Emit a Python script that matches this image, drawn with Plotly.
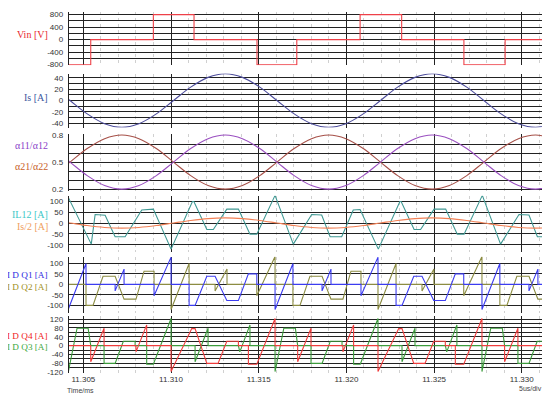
import plotly.graph_objects as go

T0 = 11.300  # ms; the time arrays below are in microseconds after T0

# ---- Panel 1: Vin ----
vin_t = [4.0, 5.42, 5.42, 8.99, 8.99, 11.31, 11.31, 14.90, 14.90, 17.17, 17.17, 20.78, 20.78,
         23.15, 23.15, 26.70, 26.70, 29.05, 29.05, 31.5]
vin_v = [-800, -800, 0, 0, 800, 800, 0, 0, -800, -800, 0, 0, 800, 800, 0, 0, -800, -800, 0, 0]

# ---- Panels 2, 3, 4 (smooth waveforms) ----
is_t = [3.26, 4.24, 5.22, 6.21, 7.19, 8.17, 9.16, 10.14, 11.12, 12.11, 13.09, 14.07, 15.06, 16.04,
        17.02, 18.01, 18.99, 19.97, 20.96, 21.94, 22.92, 23.91, 24.89, 25.87, 26.86, 27.84, 28.82,
        29.81, 30.79, 31.77]
is_v = [23.5, 0, -23.5, -40.7, -47, -40.7, -23.5, 0, 23.5, 40.7, 47, 40.7, 23.5, 0, -23.5, -40.7,
        -47, -40.7, -23.5, 0, 23.5, 40.7, 47, 40.7, 23.5, 0, -23.5, -40.7, -47, -40.7]
is2_v = [11.7, 0, -11.7, -20.3, -23.5, -20.3, -11.7, 0, 11.7, 20.3, 23.5, 20.3, 11.7, 0, -11.7, -20.3,
         -23.5, -20.3, -11.7, 0, 11.7, 20.3, 23.5, 20.3, 11.7, 0, -11.7, -20.3, -23.5, -20.3]
a1_v = [0.65, 0.5, 0.35, 0.24, 0.2, 0.24, 0.35, 0.5, 0.65, 0.76, 0.8, 0.76, 0.65, 0.5, 0.35, 0.24,
        0.2, 0.24, 0.35, 0.5, 0.65, 0.76, 0.8, 0.76, 0.65, 0.5, 0.35, 0.24, 0.2, 0.24]
a2_v = [0.35, 0.5, 0.65, 0.76, 0.8, 0.76, 0.65, 0.5, 0.35, 0.24, 0.2, 0.24, 0.35, 0.5, 0.65, 0.76,
        0.8, 0.76, 0.65, 0.5, 0.35, 0.24, 0.2, 0.24, 0.35, 0.5, 0.65, 0.76, 0.8, 0.76]

# ---- Panel 4: IL12 ----
il_t = [4.10, 5.45, 5.67, 6.24, 6.81, 7.38, 8.33, 8.99, 10.00, 11.22, 11.30, 12.04, 12.41, 13.18,
        13.84, 14.50, 14.89, 15.93, 16.97, 18.02, 18.59, 19.07, 19.73, 20.39, 20.78, 21.82, 23.05,
        23.12, 23.86, 24.23, 25.00, 25.66, 26.32, 26.71, 27.75, 28.79, 29.84, 30.41, 30.89, 31.55]
il_v = [124, -97, 39, 36, -63, -63, 60, 64, -120, 99, 99, -30, -30, 64, 64, -51, -51, 127, -97, 39,
        37, -63, -63, 60, 62, -120, 99, 99, -30, -30, 64, 64, -51, -51, 127, -97, 39, 37, -63, -63]

# ---- Panel 5: IDQ1 (blue) / IDQ2 (olive) ----
q1_t = [4.145, 5.15, 5.15, 6.81, 6.81, 7.32, 7.32, 9.03, 9.03, 10.00, 10.00, 11.03, 11.03, 11.37,
        12.04, 12.51, 13.18, 13.84, 14.41, 14.89, 14.89, 15.93, 15.93, 16.95, 16.95, 18.61, 18.61,
        19.12, 19.12, 20.83, 20.83, 21.80, 21.80, 22.83, 22.83, 23.17, 23.84, 24.31, 24.98, 25.64,
        26.21, 26.69, 26.69, 27.73, 27.73, 28.75, 28.75, 30.41, 30.41, 30.92, 30.92, 31.6]
q1_v = [-117, 100, 0, 0, -31, 73, 0, 0, -54, 130, 0, 0, -100, -100, 39, 39, -77, -77, 50, 50, 0, 0,
        -120, 100, 0, 0, -31, 73, 0, 0, -54, 130, 0, 0, -100, -100, 39, 39, -77, -77, 50, 50, 0, 0,
        -120, 100, 0, 0, -31, 73, 0, 0]
q2_t = [4.145, 5.15, 5.15, 5.55, 6.12, 6.81, 7.32, 8.00, 8.46, 9.03, 9.03, 10.00, 10.00, 11.03, 11.03,
        12.51, 12.51, 13.19, 13.19, 14.89, 14.89, 15.93, 15.93, 16.95, 16.95, 17.35, 17.92, 18.61,
        19.12, 19.80, 20.26, 20.83, 20.83, 21.80, 21.80, 22.83, 22.83, 24.31, 24.31, 24.99, 24.99,
        26.69, 26.69, 27.73, 27.73, 28.75, 28.75, 29.15, 29.72, 30.41, 30.92, 31.6]
q2_v = [0, 0, -100, -100, 39, 39, -70, -70, 63, 63, 0, 0, -120, 100, 0, 0, -31, 73, 0, 0, -54, 133,
        0, 0, -100, -100, 39, 39, -70, -70, 63, 63, 0, 0, -120, 100, 0, 0, -31, 73, 0, 0, -54, 133, 0,
        0, -100, -100, 39, 39, -70, -70]

# ---- Panel 6: IDQ4 (red) / IDQ3 (green) ----
q3_t = [4.145, 4.64, 5.27, 5.42, 6.18, 6.18, 6.81, 7.28, 7.95, 7.95, 8.61, 8.61, 8.99, 10.00, 10.00,
        11.37, 11.37, 12.11, 12.11, 13.84, 13.92, 14.50, 14.50, 15.93, 15.93, 16.43, 17.09, 17.22,
        17.98, 17.98, 18.61, 19.08, 19.75, 19.75, 20.41, 20.41, 20.79, 21.80, 21.80, 23.17, 23.17,
        23.91, 23.91, 25.64, 25.72, 26.30, 26.30, 27.73, 27.73, 28.23, 28.89, 29.02, 29.78, 29.78,
        30.41, 30.88, 31.55]
q3_v = [-117, 79, 79, 0, 0, -80, -80, 20, 20, 0, 0, -84, -84, 123, 0, 0, -73, 79, 0, 0, -28, 94, 0,
        0, -117, 79, 79, 0, 0, -80, -80, 20, 20, 0, 0, -84, -84, 123, 0, 0, -73, 79, 0, 0, -28, 94, 0,
        0, -117, 79, 79, 0, 0, -80, -80, 20, 20]
q4_t = [4.145, 5.42, 5.42, 6.18, 6.18, 8.00, 8.00, 8.61, 8.61, 10.00, 10.00, 11.18, 11.37, 12.04,
        12.68, 13.18, 13.84, 13.84, 14.41, 14.41, 14.89, 15.93, 15.93, 17.22, 17.22, 17.98, 17.98,
        19.80, 19.80, 20.41, 20.41, 21.80, 21.80, 22.98, 23.17, 23.84, 24.48, 24.98, 25.64, 25.64,
        26.21, 26.21, 26.69, 27.73, 27.73, 29.02, 29.02, 29.78, 29.78, 31.6]
q4_v = [0, 0, -73, 79, 0, 0, -28, 94, 0, 0, -117, 77, 77, -80, -80, 20, 20, 0, 0, -84, -84, 123, 0,
        0, -73, 79, 0, 0, -28, 94, 0, 0, -117, 77, 77, -80, -80, 20, 20, 0, 0, -84, -84, 123, 0, 0,
        -73, 79, 0, 0]

x_ticks = [11.305, 11.310, 11.315, 11.320, 11.325, 11.330]
x_ticktext = ["11.305", "11.310", "11.315", "11.320", "11.325", "11.330"]

y_ticks = [
    [-800, -400, 0, 400, 800],
    [-40, -20, 0, 20, 40],
    [0.2, 0.5, 0.8],
    [-100, -50, 0, 50, 100],
    [-100, -50, 0, 50, 100],
    [-120, -80, -40, 0, 40, 80, 120],
]
y_ticktext = [
    ["-800", "-400", "0", "400", "800"],
    ["-40", "-20", "0", "20", "40"],
    ["0.2", "0.5", "0.8"],
    ["-100", "-50", "0", "50", "100"],
    ["-100", "-50", "0", "50", "100"],
    ["-120", "-80", "-40", "0", "40", "80", "120"],
]
y_grid_step = [200, 10, 0.1, 50, 50, 20]
y_grid_start = [-800, -40, 0.2, -100, -100, -120]

panel_labels = [
    [("Vin [V]", "#e8282e")],
    [("Is [A]", "#3b57a0")],
    [("α11/α12", "#8a3fc8"), ("α21/α22", "#c8602a")],
    [("IL12 [A]", "#3cc8c8"), ("Is/2 [A]", "#f0a060")],
    [("I D Q1 [A]", "#2a2ae0"), ("I D Q2 [A]", "#a09020")],
    [("I D Q4 [A]", "#f02020"), ("I D Q3 [A]", "#40a840")],
]

# The page body has an 8 px margin, so the figure starts at page (8, 8).
OFF = 8
W, H = 550 - OFF, 402 - OFF
# geometry in page pixels
panel_px = [(9.3, 63.3), (71.7, 126.7), (133.3, 191.7), (196.0, 253.0), (258.3, 315.0), (318.3, 376.7)]
y_ranges = [(-820, 875), (-47.6, 47.4), (0.174, 0.811), (-131.6, 125.7), (-134.2, 131.4), (-124.4, 135.1)]
label_py = [[32], [96], [145, 166], [215.5, 227], [276.5, 288.5], [339, 350]]
label_size = [10, 10, 10, 10, 9.2, 9.2]
x_left, x_right = 69, 543


def px(v):
    return (v - OFF) / W


def py(v):
    return 1 - (v - OFF) / H


def ms(arr):
    return [T0 + u / 1000.0 for u in arr]


fig = go.Figure()


def add(tx, vy, color, idx, shape="linear", width=1.1):
    fig.add_trace(go.Scatter(
        x=ms(tx), y=vy, mode="lines", line=dict(color=color, width=width, shape=shape),
        xaxis="x" if idx == 1 else f"x{idx}", yaxis="y" if idx == 1 else f"y{idx}",
        hoverinfo="skip", showlegend=False))


add(vin_t, vin_v, "#ee4048", 1)
add(is_t, is_v, "#4d4d9c", 2, "spline")
add(is_t, a2_v, "#a65048", 3, "spline")
add(is_t, a1_v, "#9a4fc0", 3, "spline")
add(il_t, il_v, "#3f9893", 4)
add(is_t, is2_v, "#f28055", 4, "spline")
add(q2_t, q2_v, "#8c8c42", 5)
add(q1_t, q1_v, "#3c3cf0", 5)
add(q3_t, q3_v, "#3c9c3c", 6)
add(q4_t, q4_v, "#f03c3c", 6)

layout = dict(
    width=W, height=H, margin=dict(l=0, r=0, t=0, b=0),
    paper_bgcolor="white", plot_bgcolor="white", showlegend=False,
    font=dict(family="Arial, Liberation Sans, sans-serif", size=8, color="#333333"),
)

GRID = "#222222"
xr = [T0 + 4.18 / 1000.0, T0 + 31.21 / 1000.0]
annotations = []
for i in range(6):
    idx = i + 1
    xk = "xaxis" if idx == 1 else f"xaxis{idx}"
    yk = "yaxis" if idx == 1 else f"yaxis{idx}"
    top, bot = panel_px[i]
    layout[xk] = dict(
        domain=[px(x_left), px(x_right)], range=xr, anchor="y" if idx == 1 else f"y{idx}",
        tickmode="array", tickvals=x_ticks, ticktext=x_ticktext,
        showticklabels=(idx == 6), ticks="", showline=False, zeroline=False,
        showgrid=True, gridcolor=GRID, gridwidth=1.4,
        minor=dict(tick0=11.305, dtick=0.001, showgrid=True, gridcolor="#d0d0d0",
                   griddash="dot", gridwidth=1),
        tickfont=dict(size=8, color="#333333"), fixedrange=True,
    )
    if idx != 1:
        layout[xk]["matches"] = "x"
    layout[yk] = dict(
        domain=[py(bot), py(top)], range=list(y_ranges[i]),
        anchor="x" if idx == 1 else f"x{idx}",
        tickmode="array", tickvals=y_ticks[i], ticktext=y_ticktext[i], ticks="",
        showgrid=False, zeroline=False, showline=True, linecolor=GRID, linewidth=1.4,
        minor=dict(tick0=y_grid_start[i], dtick=y_grid_step[i], showgrid=True,
                   gridcolor=GRID, gridwidth=1.2),
        tickfont=dict(size=8, color="#333333"), ticklabelstandoff=3, fixedrange=True,
    )
    for (txt, col), ly in zip(panel_labels[i], label_py[i]):
        annotations.append(dict(
            text=txt, x=px(50), y=py(ly), xref="paper", yref="paper",
            xanchor="right", yanchor="middle", showarrow=False,
            font=dict(family="Liberation Serif, DejaVu Serif, serif", size=label_size[i], color=col)))

annotations.append(dict(text="Time/ms", x=px(80), y=py(394), xref="paper", yref="paper",
                        xanchor="center", yanchor="middle", showarrow=False,
                        font=dict(size=7, color="#444444")))
annotations.append(dict(text="5us/div", x=px(544), y=py(392), xref="paper", yref="paper",
                        xanchor="right", yanchor="middle", showarrow=False,
                        font=dict(size=7, color="#444444")))
layout["annotations"] = annotations
fig.update_layout(**layout)
fig.write_html("out.html")
